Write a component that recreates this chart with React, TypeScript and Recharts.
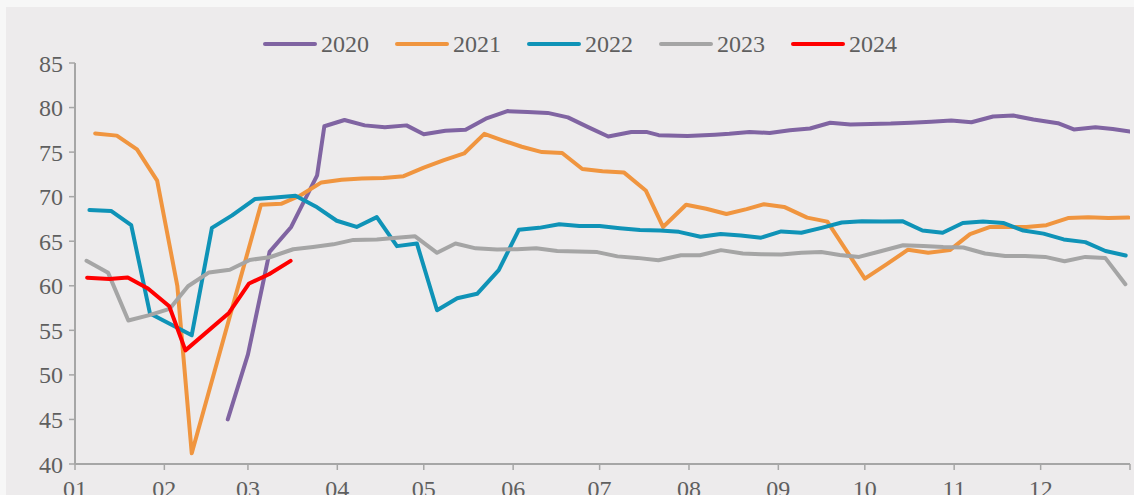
import { LineChart, Line, XAxis, YAxis } from 'recharts'

// day of year (x) and value (y) for each year
const days2020 = [53, 60, 67.5, 75, 84, 86.5, 93.5, 100.5, 107.5, 115, 121, 128.5, 135.5, 142.5, 150, 157, 164, 171, 178, 185, 193, 198.5, 202.5, 212.5, 222, 227, 234, 241, 248, 255, 262, 269, 276, 283, 290, 297, 304, 311, 318.5, 325.5, 332.5, 341, 346.5, 354, 360, 366]
const vals2020 = [45.0, 52.3, 63.8, 66.6, 72.4, 77.9, 78.6, 78.0, 77.8, 78.0, 77.0, 77.4, 77.5, 78.75, 79.6, 79.5, 79.4, 78.9, 77.8, 76.75, 77.25, 77.25, 76.9, 76.8, 76.95, 77.05, 77.25, 77.15, 77.45, 77.65, 78.3, 78.1, 78.15, 78.2, 78.3, 78.4, 78.55, 78.35, 79.0, 79.1, 78.65, 78.25, 77.55, 77.8, 77.6, 77.3]

const days2021 = [7, 14.5, 21.5, 28.5, 35.5, 40.5, 64.5, 71.5, 78, 85.5, 92.5, 99.5, 107, 114, 121, 128, 135, 142, 148.5, 155, 162, 169, 176, 183, 190.5, 198, 204, 212, 219, 226, 233, 239, 246, 254, 261, 274, 281.5, 289, 296, 303.5, 310.5, 317.5, 324, 330, 337, 344.5, 351.5, 358.5, 365.5]
const vals2021 = [77.1, 76.85, 75.3, 71.8, 60.0, 41.2, 69.1, 69.2, 70.1, 71.6, 71.9, 72.05, 72.1, 72.3, 73.25, 74.1, 74.85, 77.05, 76.3, 75.6, 75.0, 74.9, 73.1, 72.85, 72.7, 70.7, 66.6, 69.1, 68.65, 68.05, 68.6, 69.15, 68.85, 67.65, 67.2, 60.8, 62.4, 64.05, 63.7, 64.0, 65.8, 66.6, 66.6, 66.6, 66.8, 67.6, 67.7, 67.6, 67.65]

const days2022 = [5, 12.5, 19.5, 26, 40.5, 47.5, 54.5, 62.5, 69.5, 76.5, 83.5, 90.8, 97.7, 104.7, 111.7, 118.6, 125.6, 132.6, 139.5, 147, 154, 161, 168, 175, 182, 189, 196, 203, 209.5, 217, 224, 231, 238, 245, 252, 259, 266, 273, 280, 287, 294, 301, 308, 315, 322, 329, 336, 343, 350.5, 357.5, 364.5]
const vals2022 = [68.5, 68.4, 66.8, 56.9, 54.45, 66.5, 67.9, 69.75, 69.9, 70.1, 68.9, 67.3, 66.6, 67.7, 64.45, 64.75, 57.25, 58.6, 59.1, 61.75, 66.3, 66.5, 66.9, 66.7, 66.7, 66.45, 66.25, 66.2, 66.05, 65.5, 65.8, 65.65, 65.4, 66.1, 65.95, 66.5, 67.1, 67.25, 67.2, 67.25, 66.2, 65.95, 67.05, 67.2, 67.05, 66.2, 65.85, 65.2, 64.9, 63.9, 63.4]

const days2023 = [4, 11.5, 18.5, 25.8, 32.8, 39.2, 46.5, 53.7, 60.6, 67.6, 75.7, 82.6, 89.6, 96.6, 104.7, 111.7, 118, 125.6, 132, 139, 146.4, 153.4, 160, 167.3, 174.3, 181.2, 188.2, 195, 202.4, 210.2, 216.8, 224.1, 231.7, 238, 245, 252, 258.9, 265.3, 272, 279.8, 287.3, 294.3, 301.2, 308.2, 315.7, 322.7, 329.6, 336.6, 343.3, 350.5, 357.4, 364.4]
const vals2023 = [62.8, 61.45, 56.1, 56.7, 57.4, 59.95, 61.5, 61.8, 62.9, 63.2, 64.1, 64.35, 64.65, 65.15, 65.2, 65.4, 65.55, 63.7, 64.75, 64.2, 64.07, 64.1, 64.2, 63.9, 63.84, 63.78, 63.3, 63.13, 62.87, 63.43, 63.43, 64.0, 63.62, 63.54, 63.5, 63.7, 63.8, 63.45, 63.24, 63.9, 64.55, 64.47, 64.36, 64.3, 63.62, 63.35, 63.35, 63.24, 62.76, 63.24, 63.13, 60.18]

const days2024 = [4.2, 11.9, 18.3, 25.3, 32.7, 38.3, 53.4, 60.4, 67.3, 74.8]
const vals2024 = [60.9, 60.75, 60.93, 59.7, 57.7, 52.75, 56.95, 60.26, 61.3, 62.8]

const MONTH_TICKS = [0, 31, 60, 91, 121, 152, 182, 213, 244, 274, 305, 335, 366]
const MONTH_LABELS = ['01', '02', '03', '04', '05', '06', '07', '08', '09', '10', '11', '12', '']
const Y_TICKS = [40, 45, 50, 55, 60, 65, 70, 75, 80, 85]

const FONT = '"Liberation Serif", "DejaVu Serif", serif'
const TEXT = '#5f5f5f'
const AXIS = '#A6A6A6'

const SERIES = [
  { name: '2020', color: '#8064A2', days: days2020, vals: vals2020 },
  { name: '2021', color: '#F0953F', days: days2021, vals: vals2021 },
  { name: '2022', color: '#0F93B7', days: days2022, vals: vals2022 },
  { name: '2023', color: '#A5A5A5', days: days2023, vals: vals2023 },
  { name: '2024', color: '#FF0000', days: days2024, vals: vals2024 },
]

function toPoints(days: number[], vals: number[]) {
  return days.map((d, i) => ({ d, v: vals[i] }))
}

function LegendRow() {
  return (
    <div
      style={{
        position: 'absolute', left: 263, top: 30, height: 28,
        display: 'flex', alignItems: 'center', fontFamily: FONT, fontSize: 24, color: TEXT,
      }}
    >
      {SERIES.map(s => (
        <div key={s.name} style={{ display: 'flex', alignItems: 'center', marginRight: 26 }}>
          <svg width={54} height={8} style={{ marginRight: 4 }}>
            <line x1={2} y1={4} x2={52} y2={4} stroke={s.color} strokeWidth={4} strokeLinecap="round" />
          </svg>
          <span style={{ lineHeight: '28px' }}>{s.name}</span>
        </div>
      ))}
    </div>
  )
}

export default function App() {
  return (
    <div style={{ position: 'absolute', left: 0, top: 0, width: 1134, height: 495, background: '#F7F7F7', overflow: 'hidden' }}>
      <div style={{ position: 'absolute', left: 6, top: 7, width: 1128, height: 488, background: '#EDEBEC' }}>
        <LineChart width={1128} height={488} margin={{ top: 56, right: 4, left: 0, bottom: 0 }}>
          <XAxis
            type="number"
            dataKey="d"
            domain={[0, 366]}
            ticks={MONTH_TICKS}
            tickFormatter={(t: number) => MONTH_LABELS[MONTH_TICKS.indexOf(t)] ?? ''}
            interval={0}
            height={31}
            axisLine={{ stroke: AXIS, strokeWidth: 2 }}
            tickLine={{ stroke: AXIS, strokeWidth: 1.5 }}
            tickSize={6}
            tickMargin={10}
            tick={{ fontFamily: FONT, fontSize: 24, fill: TEXT }}
            allowDataOverflow
          />
          <YAxis
            type="number"
            domain={[40, 85]}
            ticks={Y_TICKS}
            interval={0}
            width={69}
            axisLine={{ stroke: AXIS, strokeWidth: 2 }}
            tickLine={{ stroke: AXIS, strokeWidth: 1.5 }}
            tickSize={6}
            tickMargin={6}
            tick={{ fontFamily: FONT, fontSize: 24, fill: TEXT }}
          />
          {SERIES.map(s => (
            <Line
              key={s.name}
              data={toPoints(s.days, s.vals)}
              dataKey="v"
              name={s.name}
              type="linear"
              stroke={s.color}
              strokeWidth={4}
              strokeLinejoin="round"
              strokeLinecap="round"
              dot={false}
              activeDot={false}
              isAnimationActive={false}
            />
          ))}
        </LineChart>
      </div>
      <LegendRow />
    </div>
  )
}
